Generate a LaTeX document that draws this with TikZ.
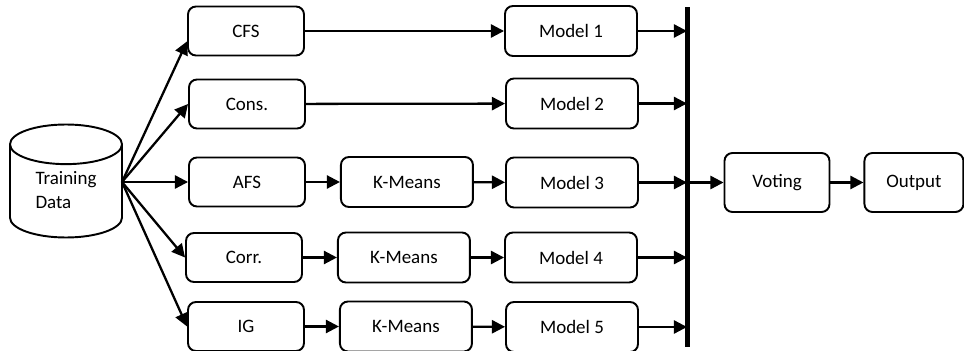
\documentclass[tikz,border=0pt]{standalone}
\usepackage{fontspec}
\setmainfont{Carlito}
\usetikzlibrary{arrows.meta,positioning,shapes.geometric}

\begin{document}
\begin{tikzpicture}[
  blk/.style={rectangle, rounded corners=0.16cm, draw, line width=1.1pt, minimum width=2.64cm, minimum height=1.0cm, font=\fontsize{10.8}{14}\selectfont, align=center},
  sel/.style={blk, minimum width=2.32cm, minimum height=0.98cm},
  arr/.style={-{Triangle[length=7.5pt, width=7.5pt]}, line width=1.3pt},
  node distance=0.7cm and 0.68cm
]
\useasboundingbox (0,0) rectangle (19.28,-7.02);

\node[cylinder, shape border rotate=90, aspect=0.65, draw, line width=1.1pt, minimum width=2.24cm, minimum height=2.26cm, font=\fontsize{10.8}{14}\selectfont, align=left, inner sep=0pt, anchor=shape center] at (1.32,-3.62) (data) {\phantom{Training}\\\phantom{Data}};
\node[font=\fontsize{10.8}{14}\selectfont, align=left] at ([yshift=-0.18cm]data.shape center) (datatxt) {Training\\Data};
\coordinate (fan) at (2.44,-3.64);

\node[sel] at (4.92,-0.62) (cfs)  {CFS};
\node[sel] at (4.94,-2.08) (cons) {Cons.};
\node[sel] at (4.94,-3.64) (afs)  {AFS};
\node[sel] at (4.88,-5.15) (corr) {Corr.};
\node[sel] at (4.92,-6.53) (ig)   {IG};

\node[blk, right=of afs]  (km3) {K-Means};
\node[blk, right=of corr] (km4) {K-Means};
\node[blk, right=of ig]   (km5) {K-Means};

\node[blk] at (11.42,-0.62) (m1) {Model 1};
\node[blk] at (11.44,-2.07) (m2) {Model 2};
\node[blk] at (11.44,-3.65) (m3) {Model 3};
\node[blk] at (11.42,-5.15) (m4) {Model 4};
\node[blk] at (11.44,-6.54) (m5) {Model 5};

\node[fill=black, inner sep=0pt, minimum width=0.1cm, minimum height=6.8cm] at (13.74,-3.54) (bar) {};

\node[blk, minimum width=2.1cm, minimum height=1.18cm] at (15.54,-3.65) (vote) {Voting};
\node[blk, minimum width=1.98cm, minimum height=1.18cm, right=0.66cm of vote] (out) {Output};

% fan out from the data
\draw[arr] (fan) -- (cfs.190);
\draw[arr] (fan) -- (cons.west);
\draw[arr] (fan) -- (afs.west);
\draw[arr] (fan) -- (corr.west);
\draw[arr] (fan) -- (ig.west);

\draw[arr] (cfs) -- (m1); \draw[arr] (cons) -- (m2);
\draw[arr] (afs) -- (km3); \draw[arr] (km3) -- (m3);
\draw[arr] (corr) -- (km4); \draw[arr] (km4) -- (m4);
\draw[arr] (ig) -- (km5); \draw[arr] (km5) -- (m5);

\foreach \m in {m1,m2,m3,m4,m5}
  \draw[arr] (\m) -- (\m -| bar.center);

\draw[arr] (bar.east |- vote) -- (vote);
\draw[arr] (vote) -- (out);
\end{tikzpicture}
\end{document}
